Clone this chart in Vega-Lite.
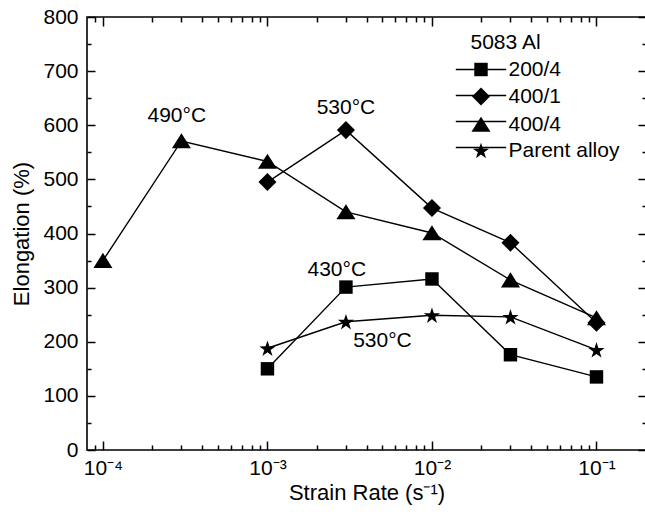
{
  "$schema": "https://vega.github.io/schema/vega-lite/v6.json",
  "width": 559,
  "height": 433,
  "autosize": "none",
  "padding": {"left": 87, "top": 17, "right": 0, "bottom": 65},
  "background": "white",
  "config": {
    "font": "Liberation Sans",
    "view": {"stroke": "black", "strokeWidth": 1.6},
    "axis": {
      "grid": false,
      "domain": false,
      "labelFont": "Liberation Sans",
      "titleFont": "Liberation Sans",
      "labelFontSize": 21,
      "titleFontSize": 22,
      "labelColor": "black",
      "titleColor": "black",
      "titleFontWeight": "normal",
      "tickColor": "black",
      "tickWidth": 1.5,
      "labelFlush": false,
      "labelOverlap": false
    }
  },
  "data": {
    "values": [
      {"rate": 0.001, "elong": 150, "series": "200/4"},
      {"rate": 0.003, "elong": 301, "series": "200/4"},
      {"rate": 0.01, "elong": 316, "series": "200/4"},
      {"rate": 0.03, "elong": 176, "series": "200/4"},
      {"rate": 0.1, "elong": 135, "series": "200/4"},
      {"rate": 0.0001, "elong": 350, "series": "400/4"},
      {"rate": 0.0003, "elong": 571, "series": "400/4"},
      {"rate": 0.001, "elong": 533, "series": "400/4"},
      {"rate": 0.003, "elong": 440, "series": "400/4"},
      {"rate": 0.01, "elong": 401, "series": "400/4"},
      {"rate": 0.03, "elong": 314, "series": "400/4"},
      {"rate": 0.1, "elong": 244, "series": "400/4"},
      {"rate": 0.001, "elong": 495, "series": "400/1"},
      {"rate": 0.003, "elong": 591, "series": "400/1"},
      {"rate": 0.01, "elong": 447, "series": "400/1"},
      {"rate": 0.03, "elong": 383, "series": "400/1"},
      {"rate": 0.1, "elong": 235, "series": "400/1"},
      {"rate": 0.001, "elong": 188, "series": "Parent alloy"},
      {"rate": 0.003, "elong": 237, "series": "Parent alloy"},
      {"rate": 0.01, "elong": 249, "series": "Parent alloy"},
      {"rate": 0.03, "elong": 246, "series": "Parent alloy"},
      {"rate": 0.1, "elong": 185, "series": "Parent alloy"}
    ]
  },
  "resolve": {"axis": {"x": "independent", "y": "independent"}},
  "layer": [
    {
      "mark": {"type": "line", "strokeWidth": 1.4},
      "encoding": {
        "x": {
          "field": "rate", "type": "quantitative",
          "scale": {"type": "log", "domain": [0.00008, 0.2], "nice": false},
          "axis": {
            "orient": "bottom",
            "values": [0.0001, 0.001, 0.01, 0.1],
            "ticks": false,
            "labelPadding": 7,
            "labelExpr": "datum.value < 0.0005 ? '10⁻⁴' : datum.value < 0.005 ? '10⁻³' : datum.value < 0.05 ? '10⁻²' : '10⁻¹'",
            "title": "Strain Rate (s⁻¹)",
            "titlePadding": 4
          }
        },
        "y": {
          "field": "elong", "type": "quantitative",
          "scale": {"domain": [0, 800], "nice": false},
          "axis": {
            "orient": "left",
            "values": [0, 100, 200, 300, 400, 500, 600, 700, 800],
            "ticks": false,
            "labelPadding": 9,
            "title": "Elongation (%)",
            "titlePadding": 9
          }
        },
        "color": {
          "field": "series", "type": "nominal",
          "scale": {"domain": ["200/4", "400/1", "400/4", "Parent alloy", " "], "range": ["black", "black", "black", "black", "transparent"]},
          "legend": {
            "orient": "none",
            "legendX": 383.5,
            "legendY": 15,
            "title": "5083 Al",
            "titleFontSize": 21,
            "titleFontWeight": "normal",
            "titleColor": "transparent",
            "titleFont": "Liberation Sans",
            "titlePadding": 6,
            "labelFont": "Liberation Sans",
            "labelFontSize": 21,
            "labelColor": "transparent",
            "labelOffset": 17,
            "rowPadding": 4,
            "symbolType": "M-3.6,0H3.6",
            "symbolSize": 196,
            "symbolStrokeWidth": 1.5,
            "symbolOpacity": 1
          }
        }
      }
    },
    {
      "mark": {"type": "point", "filled": true, "color": "black", "opacity": 1, "size": 196},
      "encoding": {
        "x": {
          "field": "rate", "type": "quantitative",
          "scale": {"type": "log", "domain": [0.00008, 0.2], "nice": false},
          "axis": {"orient": "bottom", "values": [0.0001, 0.001, 0.01, 0.1], "offset": -9, "tickSize": 9, "ticks": true, "labels": false, "title": null}
        },
        "y": {
          "field": "elong", "type": "quantitative",
          "scale": {"domain": [0, 800], "nice": false},
          "axis": {"orient": "left", "values": [0, 100, 200, 300, 400, 500, 600, 700, 800], "offset": -8, "tickSize": 8, "ticks": true, "labels": false, "title": null}
        },
        "shape": {
          "field": "series", "type": "nominal",
          "scale": {
            "domain": ["200/4", "400/1", "400/4", "Parent alloy"],
            "range": [
              "M-0.96,-0.96H0.96V0.96H-0.96Z",
              "M0,-1.29L1.29,0L0,1.29L-1.29,0Z",
              "M0,-1.1L1.36,1.05H-1.36Z",
              "M0,-1.11L0.276,-0.27L1.16,-0.267L0.447,0.255L0.717,1.097L0,0.58L-0.717,1.097L-0.447,0.255L-1.16,-0.267L-0.276,-0.27Z"
            ]
          },
          "legend": {
            "orient": "none",
            "legendX": 383.5,
            "legendY": 15,
            "title": "5083 Al",
            "titleFontSize": 21,
            "titleFontWeight": "normal",
            "titleColor": "black",
            "titleFont": "Liberation Sans",
            "titlePadding": 6,
            "labelFont": "Liberation Sans",
            "labelFontSize": 21,
            "labelColor": "black",
            "labelOffset": 17,
            "rowPadding": 4,
            "symbolSize": 196,
            "symbolFillColor": "black",
            "symbolOpacity": 1
          }
        }
      }
    },
    {
      "data": {
        "values": [
          {"rate": 0.000281, "elong": 617, "label": "490°C"},
          {"rate": 0.003, "elong": 632, "label": "530°C"},
          {"rate": 0.00264, "elong": 333, "label": "430°C"},
          {"rate": 0.005, "elong": 201, "label": "530°C"}
        ]
      },
      "mark": {"type": "text", "fontSize": 21, "font": "Liberation Sans", "color": "black", "align": "center", "baseline": "middle"},
      "encoding": {
        "x": {
          "field": "rate", "type": "quantitative",
          "scale": {"type": "log", "domain": [0.00008, 0.2], "nice": false},
          "axis": {
            "orient": "bottom",
            "values": [0.00009, 0.0002, 0.0003, 0.0004, 0.0005, 0.0006, 0.0007, 0.0008, 0.0009, 0.002, 0.003, 0.004, 0.005, 0.006, 0.007, 0.008, 0.009, 0.02, 0.03, 0.04, 0.05, 0.06, 0.07, 0.08, 0.09],
            "offset": -5, "tickSize": 5, "ticks": true, "labels": false, "title": null
          }
        },
        "y": {
          "field": "elong", "type": "quantitative",
          "scale": {"domain": [0, 800], "nice": false},
          "axis": {"orient": "left", "values": [50, 150, 250, 350, 450, 550, 650, 750], "offset": -4, "tickSize": 4, "ticks": true, "labels": false, "title": null}
        },
        "text": {"field": "label"}
      }
    },
    {
      "mark": {"type": "point", "opacity": 0},
      "encoding": {
        "x": {
          "field": "rate", "type": "quantitative",
          "scale": {"type": "log", "domain": [0.00008, 0.2], "nice": false},
          "axis": {"orient": "top", "values": [0.0001, 0.001, 0.01, 0.1], "offset": -9, "tickSize": 9, "ticks": true, "labels": false, "title": null}
        },
        "y": {
          "field": "elong", "type": "quantitative",
          "scale": {"domain": [0, 800], "nice": false},
          "axis": {"orient": "right", "values": [0, 100, 200, 300, 400, 500, 600, 700, 800], "offset": -8, "tickSize": 8, "ticks": true, "labels": false, "title": null}
        }
      }
    },
    {
      "mark": {"type": "point", "opacity": 0},
      "encoding": {
        "x": {
          "field": "rate", "type": "quantitative",
          "scale": {"type": "log", "domain": [0.00008, 0.2], "nice": false},
          "axis": {
            "orient": "top",
            "values": [0.00009, 0.0002, 0.0003, 0.0004, 0.0005, 0.0006, 0.0007, 0.0008, 0.0009, 0.002, 0.003, 0.004, 0.005, 0.006, 0.007, 0.008, 0.009, 0.02, 0.03, 0.04, 0.05, 0.06, 0.07, 0.08, 0.09],
            "offset": -5, "tickSize": 5, "ticks": true, "labels": false, "title": null
          }
        },
        "y": {
          "field": "elong", "type": "quantitative",
          "scale": {"domain": [0, 800], "nice": false},
          "axis": {"orient": "right", "values": [50, 150, 250, 350, 450, 550, 650, 750], "offset": -4, "tickSize": 4, "ticks": true, "labels": false, "title": null}
        }
      }
    }
  ]
}
